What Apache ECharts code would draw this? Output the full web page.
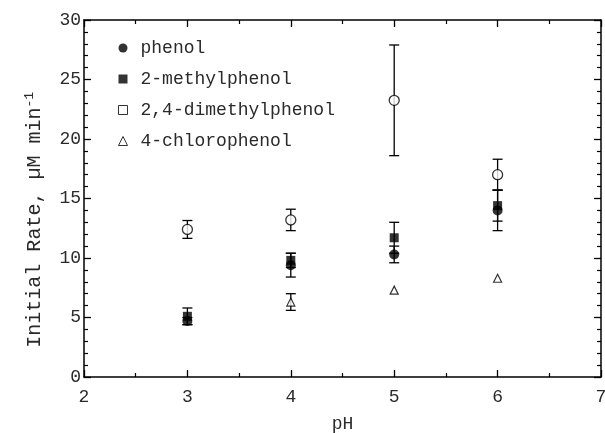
<!DOCTYPE html>
<html>
<head>
<meta charset="utf-8">
<script src="https://cdn.jsdelivr.net/npm/echarts@6/dist/echarts.min.js"></script>
<style>
html,body{margin:0;padding:0;background:#fff;}
#chart{width:605px;height:433px;}
</style>
</head>
<body>
<div id="chart"></div>
<script>
// pH values
var pH = [3, 4, 5, 6];
var pHChloro = [4, 5, 6];
// series values (uM/min)
var phenol = [4.7, 9.4, 10.3, 14.0];
var phenolErr = [0.3, 1.0, 0.7, 1.7];
var methylphenol = [5.1, 9.8, 11.7, 14.4];
var methylphenolErr = [0.7, 0.6, 1.3, 1.3];
var dimethylphenol = [12.4, 13.2, 23.25, 17.0];
var dimethylphenolErr = [0.75, 0.9, 4.65, 1.3];
var chlorophenol = [6.3, 7.3, 8.3];
var chlorophenolErr = [0.7, 0, 0];
var names = ['phenol', '2-methylphenol', '2,4-dimethylphenol', '4-chlorophenol'];

var FONT = 'Liberation Mono';
var TXT = '#2a2a2a';

function pts(xs, ys) { return xs.map(function (x, i) { return [x, ys[i]]; }); }
function errPts(xs, ys, es) { return xs.map(function (x, i) { return [x, ys[i], es[i]]; }); }

function errSeries(xs, ys, es) {
  return {
    type: 'custom',
    z: 1,
    silent: true,
    data: errPts(xs, ys, es),
    renderItem: function (params, api) {
      var x = api.value(0), y = api.value(1), e = api.value(2);
      if (!e) return null;
      var hi = api.coord([x, y + e]);
      var lo = api.coord([x, y - e]);
      var w = 5;
      var st = { stroke: '#000', lineWidth: 1.3 };
      return {
        type: 'group',
        children: [
          { type: 'line', shape: { x1: hi[0], y1: hi[1], x2: lo[0], y2: lo[1] }, style: st },
          { type: 'line', shape: { x1: hi[0] - w, y1: hi[1], x2: hi[0] + w, y2: hi[1] }, style: st },
          { type: 'line', shape: { x1: lo[0] - w, y1: lo[1], x2: lo[0] + w, y2: lo[1] }, style: st }
        ]
      };
    }
  };
}

var tickCommon = { show: true, inside: true, length: 7, lineStyle: { color: '#000', width: 1.3 } };
var axisLineCommon = { show: true, onZero: false, lineStyle: { color: '#000', width: 1.5 } };

var chart = echarts.init(document.getElementById('chart'));
chart.setOption({
  backgroundColor: '#fff',
  animation: false,
  grid: { left: 84, right: 4, top: 20, bottom: 56, containLabel: false, outerBoundsMode: 'none' },
  legend: {
    orient: 'vertical',
    left: 113,
    top: 34,
    itemWidth: 9,
    itemHeight: 9,
    itemGap: 13,
    textStyle: { fontFamily: FONT, fontSize: 18, color: TXT, padding: [0, 0, 0, 8] },
    data: [
      { name: names[0], icon: 'circle', itemStyle: { color: '#000', borderWidth: 0 } },
      { name: names[1], icon: 'rect', itemStyle: { color: '#000', borderWidth: 0 } },
      { name: names[2], icon: 'rect', itemStyle: { color: '#fff', borderColor: '#000', borderWidth: 1 } },
      { name: names[3], icon: 'triangle', itemStyle: { color: '#fff', borderColor: '#000', borderWidth: 1 } }
    ]
  },
  xAxis: [{
    type: 'value', min: 2, max: 7, interval: 1,
    name: 'pH', nameLocation: 'middle', nameGap: 38,
    nameTextStyle: { fontFamily: FONT, fontSize: 18, color: TXT },
    axisLine: axisLineCommon,
    axisTick: tickCommon,
    minorTick: { show: true, splitNumber: 2, length: 4, lineStyle: { color: '#000', width: 1.2 } },
    axisLabel: { fontFamily: FONT, fontSize: 18, color: TXT, margin: 11 },
    splitLine: { show: false }
  }, {
    type: 'value', min: 2, max: 7, interval: 1, position: 'top',
    axisLine: axisLineCommon,
    axisTick: tickCommon,
    minorTick: { show: true, splitNumber: 2, length: 4, lineStyle: { color: '#000', width: 1.2 } },
    axisLabel: { show: false },
    splitLine: { show: false }
  }],
  yAxis: [{
    type: 'value', min: 0, max: 30, interval: 5,
    axisLine: axisLineCommon,
    axisTick: tickCommon,
    minorTick: { show: true, splitNumber: 5, length: 4, lineStyle: { color: '#000', width: 1.2 } },
    axisLabel: { fontFamily: FONT, fontSize: 18, color: TXT, margin: 3 },
    splitLine: { show: false }
  }, {
    type: 'value', min: 0, max: 30, interval: 5, position: 'right',
    axisLine: axisLineCommon,
    axisTick: tickCommon,
    minorTick: { show: true, splitNumber: 5, length: 4, lineStyle: { color: '#000', width: 1.2 } },
    axisLabel: { show: false },
    splitLine: { show: false }
  }],
  graphic: [{
    type: 'text',
    left: 23,
    top: 92,
    rotation: Math.PI / 2,
    style: {
      text: '{m|Initial Rate, µM min}{s|-1}',
      rich: {
        m: { fontFamily: FONT, fontSize: 20, fill: TXT },
        s: { fontFamily: FONT, fontSize: 13, fill: TXT, verticalAlign: 'top', padding: [0, 0, 11, 0] }
      }
    }
  }],
  series: [
    errSeries(pH, dimethylphenol, dimethylphenolErr),
    errSeries(pH, methylphenol, methylphenolErr),
    errSeries(pH, phenol, phenolErr),
    errSeries(pHChloro, chlorophenol, chlorophenolErr),
    {
      name: names[2], type: 'scatter', z: 3, symbol: 'circle', symbolSize: 10,
      itemStyle: { color: '#fff', borderColor: '#000', borderWidth: 1.3 },
      data: pts(pH, dimethylphenol)
    },
    {
      name: names[1], type: 'scatter', z: 3, symbol: 'rect', symbolSize: 9,
      itemStyle: { color: '#000' },
      data: pts(pH, methylphenol)
    },
    {
      name: names[0], type: 'scatter', z: 4, symbol: 'circle', symbolSize: 10,
      itemStyle: { color: '#000' },
      data: pts(pH, phenol)
    },
    {
      name: names[3], type: 'scatter', z: 3, symbol: 'triangle', symbolSize: 8,
      itemStyle: { color: '#fff', borderColor: '#000', borderWidth: 1.2 },
      data: pts(pHChloro, chlorophenol)
    }
  ]
});
</script>
</body>
</html>
